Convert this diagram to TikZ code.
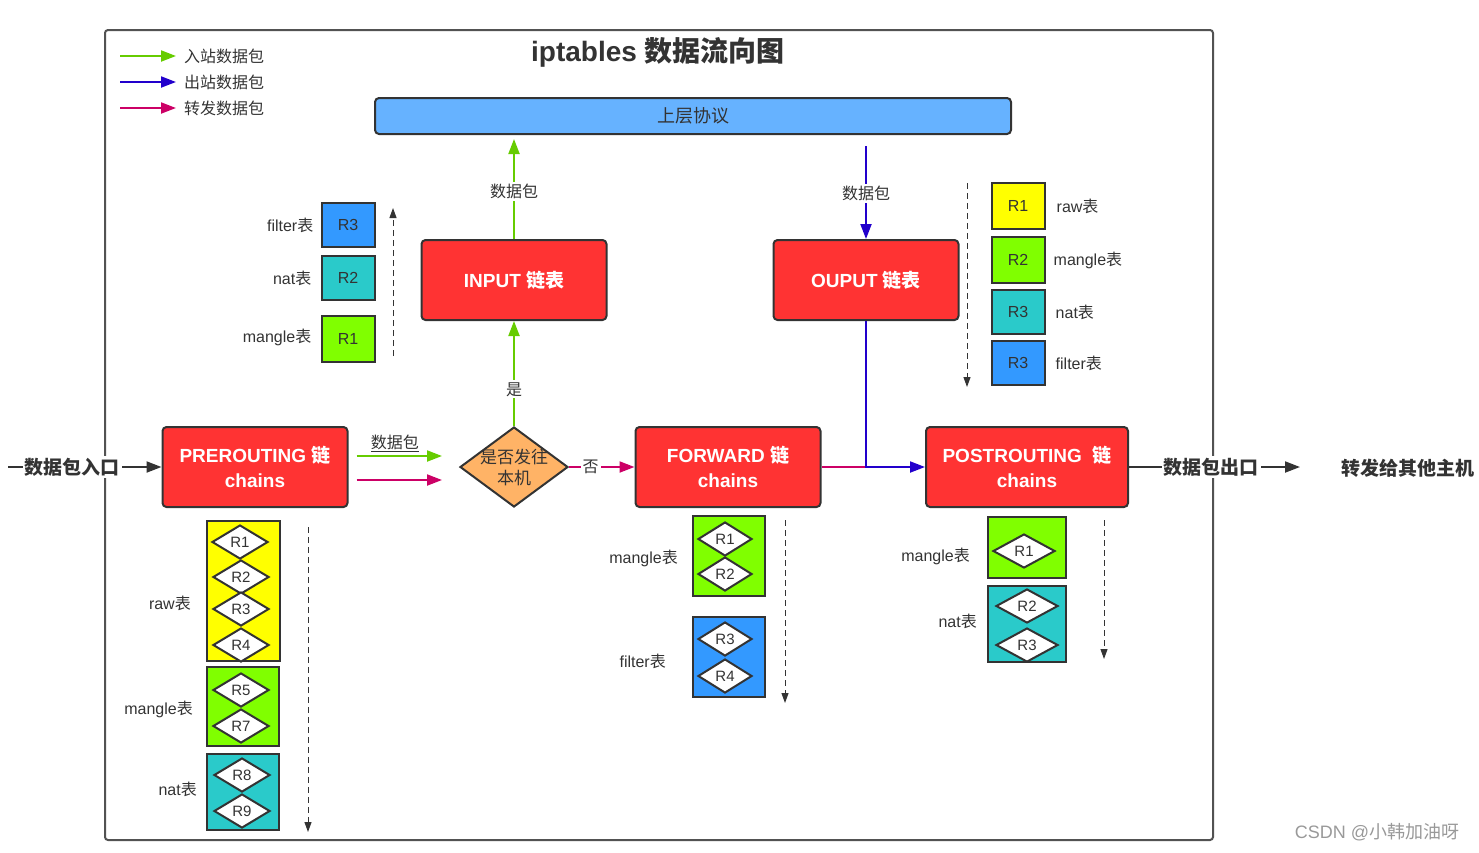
\documentclass[tikz,border=0pt]{standalone}
\usepackage{fontspec}
\setmainfont{Liberation Sans}
\newfontfamily\cjk{Noto Sans CJK SC}
\newcommand{\zh}[1]{{\cjk #1}}
\usetikzlibrary{shapes.geometric,arrows.meta,positioning}
\definecolor{edge}{HTML}{333333}
\definecolor{txt}{HTML}{333333}
\definecolor{chainred}{HTML}{FF3333}
\definecolor{barblue}{HTML}{66B2FF}
\definecolor{decorange}{HTML}{FFB366}
\definecolor{tblyellow}{HTML}{FFFF00}
\definecolor{tblgreen}{HTML}{80FF00}
\definecolor{tblcyan}{HTML}{2ACACA}
\definecolor{tblblue}{HTML}{3399FF}
\definecolor{ingreen}{HTML}{66CC00}
\definecolor{outblue}{HTML}{2200CC}
\definecolor{fwdpink}{HTML}{CC0066}
\tikzset{
  frame/.style = {draw=edge!85, line width=2pt, rounded corners=3pt},
  chainnode/.style = {draw=edge, fill=chainred, rounded corners=4pt, line width=2pt,
    minimum width=185pt, minimum height=80pt, text=white, align=center,
    font=\fontsize{19}{25}\selectfont\bfseries},
  tblbox/.style = {draw=edge, line width=2pt, inner sep=0pt, text=txt,
    font=\fontsize{16}{19}\selectfont},
  rulenode/.style = {diamond, draw=edge, fill=white, line width=2pt, inner sep=0pt,
    minimum width=56pt, minimum height=34pt, text=txt, font=\fontsize{15}{18}\selectfont},
  lbl/.style = {text=txt, inner sep=2pt, font=\fontsize{16}{19}\selectfont},
  legtext/.style = {lbl, anchor=west, inner sep=5pt},
  flow/.style = {line width=2pt, -{Triangle[length=15pt,width=11pt]}},
  inflow/.style = {flow, draw=ingreen},
  outflow/.style = {flow, draw=outblue},
  fwdflow/.style = {flow, draw=fwdpink},
  orderline/.style = {draw=edge, line width=1pt, dash pattern=on 6pt off 4pt,
    -{Triangle[length=10pt,width=7pt]}}
}
\begin{document}
\begin{tikzpicture}[x=1pt,y=-1pt]
\useasboundingbox (0,0) rectangle (1479,852);
\draw[frame] (105,30) rectangle (1213,840);

% legend
\node[legtext] (leg-in) at (179,56) {\zh{入站数据包}};
\node[legtext] (leg-out) at (179,82) {\zh{出站数据包}};
\node[legtext] (leg-fwd) at (179,108) {\zh{转发数据包}};
\coordinate (leg-in-s) at (120,56);
\coordinate (leg-out-s) at (120,82);
\coordinate (leg-fwd-s) at (120,108);
\draw[inflow] (leg-in-s) -- ([xshift=-3pt]leg-in.west);
\draw[outflow] (leg-out-s) -- ([xshift=-3pt]leg-out.west);
\draw[fwdflow] (leg-fwd-s) -- ([xshift=-3pt]leg-fwd.west);

\node[text=txt, font=\fontsize{28}{32}\selectfont\bfseries] (title) at (658,52) {iptables \zh{数据流向图}};

% upper layer and chains
\node[draw=edge, fill=barblue, rounded corners=4pt, line width=2pt, minimum width=636pt,
  minimum height=36pt, text=txt, font=\fontsize{18}{22}\selectfont] (upper) at (693,116) {\zh{上层协议}};
\node[chainnode] (input) at (514,280) {INPUT \zh{链表}};
\node[chainnode] (output) at (866,280) {OUPUT \zh{链表}};
\node[chainnode] (pre) at (255,467) {PREROUTING \zh{链}\\chains};
\node[chainnode] (fwd) at (728,467) {FORWARD \zh{链}\\chains};
\node[chainnode, minimum width=202pt] (post) at (1027,467) {POSTROUTING~ \zh{链}\\chains};

\node[diamond, draw=edge, fill=decorange, line width=2pt, minimum width=108pt,
  minimum height=80pt, inner sep=0pt] (dec) at (514,467) {};
\node[lbl, align=center, font=\fontsize{17}{21}\selectfont] (dec-text) at (dec) {\zh{是否发往}\\\zh{本机}};

% flows
\coordinate (entry) at (8,467);
\coordinate (exit) at (1300,467);
\draw[flow, draw=edge] (entry) -- node[pos=0.42, fill=white, text=txt, inner sep=2pt,
  font=\fontsize{19}{22}\selectfont\bfseries] {\zh{数据包入口}} (pre.west);
\draw[flow, draw=edge] (post.east) -- node[pos=0.48, fill=white, text=txt, inner sep=2pt,
  font=\fontsize{19}{22}\selectfont\bfseries] {\zh{数据包出口}} (exit);
\node[text=txt, font=\fontsize{19}{22}\selectfont\bfseries] (other) at (1408,468) {\zh{转发给其他主机}};

\draw[inflow, shorten <=8pt, shorten >=17pt] ([yshift=11pt]pre.east) -- ([yshift=11pt]pre.east -| dec.west)
  node[lbl, pos=0.42, above=1pt] {\underline{\zh{数据包}}};
\draw[fwdflow, shorten <=8pt, shorten >=17pt] ([yshift=-13pt]pre.east) -- ([yshift=-13pt]pre.east -| dec.west);
\draw[inflow] (dec.north) -- node[lbl, pos=0.35, fill=white] {\zh{是}} (input.south);
\draw[inflow, shorten >=4pt] (input.north) -- node[lbl, pos=0.46, fill=white] {\zh{数据包}} (upper.south -| input.north);
\draw[outflow, shorten <=11pt] (upper.south -| output.north) -- node[lbl, pos=0.56, fill=white] {\zh{数据包}} (output.north);
\draw[fwdflow] (dec.east) -- node[lbl, pos=0.33, fill=white] {\zh{否}} (fwd.west);
\draw[line width=2pt, draw=fwdpink] (fwd.east) -- (fwd.east -| output.south);
\draw[outflow] (output.south) |- (post.west);

% INPUT tables
\node[tblbox, fill=tblblue, minimum width=53pt, minimum height=44pt] (in-r3) at (348,225) {R3};
\node[tblbox, fill=tblcyan, minimum width=53pt, minimum height=44pt] (in-r2) at (348,278) {R2};
\node[tblbox, fill=tblgreen, minimum width=53pt, minimum height=46pt] (in-r1) at (348,339) {R1};
\node[lbl, left=5pt of in-r3] {filter\zh{表}};
\node[lbl, left=7pt of in-r2] {nat\zh{表}};
\node[lbl, left=7pt of in-r1, yshift=2pt] {mangle\zh{表}};
\coordinate (in-ord-s) at (393,356);
\coordinate (in-ord-e) at (393,208);
\draw[orderline] (in-ord-s) -- (in-ord-e);

% OUTPUT tables
\node[tblbox, fill=tblyellow, minimum width=53pt, minimum height=46pt] (out-r1) at (1018,206) {R1};
\node[tblbox, fill=tblgreen, minimum width=53pt, minimum height=46pt] (out-r2) at (1018,260) {R2};
\node[tblbox, fill=tblcyan, minimum width=53pt, minimum height=44pt] (out-r3) at (1018,312) {R3};
\node[tblbox, fill=tblblue, minimum width=53pt, minimum height=44pt] (out-r4) at (1018,363) {R3};
\node[lbl, right=9pt of out-r1] {raw\zh{表}};
\node[lbl, right=6pt of out-r2] {mangle\zh{表}};
\node[lbl, right=8pt of out-r3] {nat\zh{表}};
\node[lbl, right=8pt of out-r4] {filter\zh{表}};
\coordinate (out-ord-s) at (967,183);
\coordinate (out-ord-e) at (967,387);
\draw[orderline] (out-ord-s) -- (out-ord-e);

% PREROUTING tables
\node[tblbox, fill=tblyellow, minimum width=73pt, minimum height=140pt] (pre-raw) at (243,591) {};
\node[tblbox, fill=tblgreen, minimum width=72pt, minimum height=79pt] (pre-mangle) at (243,706) {};
\node[tblbox, fill=tblcyan, minimum width=72pt, minimum height=76pt] (pre-nat) at (243,792) {};
\node[rulenode] (pre-1) at (240,542) {R1};
\node[rulenode] (pre-2) at (241,577) {R2};
\node[rulenode] (pre-3) at (241,609) {R3};
\node[rulenode] (pre-4) at (241,645) {R4};
\node[rulenode] (pre-5) at (241,690) {R5};
\node[rulenode] (pre-7) at (241,726) {R7};
\node[rulenode] (pre-8) at (242,775) {R8};
\node[rulenode] (pre-9) at (242,811) {R9};
\node[lbl, anchor=east] at (193,603) {raw\zh{表}};
\node[lbl, anchor=east] at (195,709) {mangle\zh{表}};
\node[lbl, anchor=east] at (199,789) {nat\zh{表}};
\coordinate (pre-ord-s) at (308,527);
\coordinate (pre-ord-e) at (308,832);
\draw[orderline] (pre-ord-s) -- (pre-ord-e);

% FORWARD tables
\node[tblbox, fill=tblgreen, minimum width=72pt, minimum height=80pt] (fwd-mangle) at (729,556) {};
\node[tblbox, fill=tblblue, minimum width=72pt, minimum height=80pt] (fwd-filter) at (729,657) {};
\node[rulenode, minimum width=54pt] (fwd-1) at (725,539) {R1};
\node[rulenode, minimum width=54pt] (fwd-2) at (725,574) {R2};
\node[rulenode, minimum width=54pt] (fwd-3) at (725,639) {R3};
\node[rulenode, minimum width=54pt] (fwd-4) at (725,676) {R4};
\node[lbl, anchor=east] at (680,558) {mangle\zh{表}};
\node[lbl, anchor=east] at (668,661) {filter\zh{表}};
\coordinate (fwd-ord-s) at (785,520);
\coordinate (fwd-ord-e) at (785,703);
\draw[orderline] (fwd-ord-s) -- (fwd-ord-e);

% POSTROUTING tables
\node[tblbox, fill=tblgreen, minimum width=78pt, minimum height=61pt] (post-mangle) at (1027,547) {};
\node[tblbox, fill=tblcyan, minimum width=78pt, minimum height=76pt] (post-nat) at (1027,624) {};
\node[rulenode, minimum width=62pt] (post-1) at (1024,551) {R1};
\node[rulenode, minimum width=62pt] (post-2) at (1027,606) {R2};
\node[rulenode, minimum width=62pt] (post-3) at (1027,645) {R3};
\node[lbl, anchor=east] at (972,556) {mangle\zh{表}};
\node[lbl, anchor=east] at (979,621) {nat\zh{表}};
\coordinate (post-ord-s) at (1104,520);
\coordinate (post-ord-e) at (1104,659);
\draw[orderline] (post-ord-s) -- (post-ord-e);

\node[text=black!40, font=\fontsize{18}{21}\selectfont] (mark) at (1377,832) {CSDN @\zh{小韩加油呀}};
\end{tikzpicture}
\end{document}
